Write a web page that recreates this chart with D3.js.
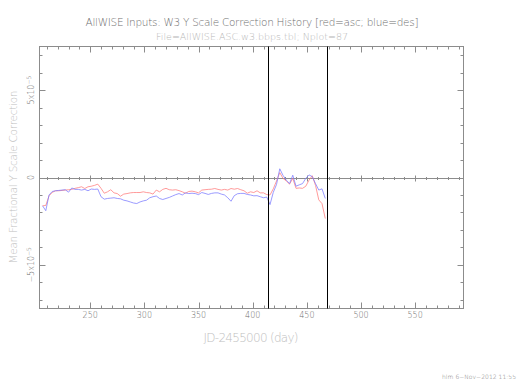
<!DOCTYPE html>
<html>
<head>
<meta charset="utf-8">
<script src="https://cdn.jsdelivr.net/npm/d3@7"></script>
<style>
  body { margin: 0; background: #fff; }
  svg { font-family: "DejaVu Sans", "Liberation Sans", sans-serif; font-weight: 200; }
</style>
</head>
<body>
<div id="chart"></div>
<script>
'use strict';

// days (JD-2455000)
var days = [206, 209, 212, 215, 218, 221, 224, 227, 230, 233, 236, 239, 242, 245, 248,
  251, 254, 257, 260, 263, 266, 269, 272, 275, 278, 281, 284, 287, 290, 293, 296, 299,
  302, 305, 308, 311, 314, 317, 320, 323, 326, 329, 332, 335, 338, 341, 344, 347, 350,
  353, 356, 359, 362, 365, 368, 371, 374, 377, 380, 383, 386, 389, 392, 395, 398, 401,
  404, 407, 410, 413, 416, 419, 422, 425, 428, 431, 434, 437, 440, 443, 446, 449, 452,
  455, 458, 461, 464, 467];

// mean fractional correction, units of 1e-5
var ascValues = [-1.62, -1.6, -1.05, -0.85, -0.76, -0.76, -0.74, -0.72, -0.7, -0.68, -0.62,
  -0.58, -0.53, -0.63, -0.53, -0.5, -0.45, -0.38, -0.62, -0.9, -0.82, -0.7, -0.88, -0.92,
  -1.07, -0.95, -0.92, -0.88, -0.86, -0.86, -0.86, -0.82, -0.86, -0.88, -0.95, -0.72, -0.82,
  -0.68, -0.62, -0.7, -0.72, -0.7, -0.75, -0.82, -0.9, -0.8, -0.78, -0.82, -0.88, -0.72,
  -0.7, -0.68, -0.67, -0.63, -0.68, -0.72, -0.68, -0.72, -0.63, -0.67, -0.63, -0.7, -0.76,
  -0.9, -0.82, -0.86, -0.76, -0.88, -0.88, -0.98, -1.0, -0.65, -0.2, 0.28, -0.05, -0.2,
  -0.38, -0.05, -0.62, -0.6, -0.62, -0.5, -0.15, 0.1, -0.45, -1.28, -1.5, -2.35];

var desValues = [-1.62, -1.9, -1.0, -0.8, -0.76, -0.74, -0.72, -0.7, -0.84, -0.6, -0.68,
  -0.68, -0.72, -0.68, -0.76, -0.66, -0.68, -0.66, -1.1, -1.24, -1.2, -1.18, -1.16, -1.2,
  -1.22, -1.3, -1.34, -1.4, -1.46, -1.49, -1.4, -1.34, -1.3, -1.16, -1.1, -1.06, -1.2,
  -1.26, -1.2, -1.14, -1.06, -0.98, -0.92, -1.0, -0.88, -0.92, -0.9, -0.92, -0.98, -0.86,
  -0.91, -0.97, -0.91, -0.88, -0.88, -0.95, -1.0, -1.16, -1.36, -1.04, -0.93, -0.91, -0.91,
  -0.97, -1.0, -1.05, -1.04, -1.1, -1.16, -1.12, -1.55, -0.85, -0.4, 0.5, 0.12, -0.15,
  -0.35, 0.13, -0.5, -0.42, -0.35, -0.05, 0.15, 0.05, -0.35, -0.72, -0.65, -1.2];

var markerDays = [414.5, 469];
var xMajor = [250, 300, 350, 400, 450, 500, 550];

(function() {

  var width = 521, height = 384;
  var pLeft = 39.5, pRight = 463.5, pTop = 46.5, pBottom = 308.5;

  var svg = d3.select('#chart').append('svg')
    .attr('width', width)
    .attr('height', height);

  var x = d3.scaleLinear().domain([203.2, 594.6]).range([pLeft, pRight]);
  var y = d3.scaleLinear().domain([-7.5, 7.5]).range([pBottom, pTop]);

  var frameColor = '#8c8c8c';
  var minorX = d3.range(210, 595, 10);
  var minorY = d3.range(-7, 8, 1);

  // frame
  svg.append('rect')
    .attr('x', pLeft).attr('y', pTop)
    .attr('width', pRight - pLeft).attr('height', pBottom - pTop)
    .attr('fill', 'none').attr('stroke', frameColor).attr('stroke-width', 1);

  function tickLen(major) { return major ? 6 : 3; }

  var zeroY = Math.round(y(0)) + 0.5;

  // bottom + top ticks, and ticks across the zero line
  var g = svg.append('g').attr('stroke', frameColor).attr('stroke-width', 1);
  minorX.forEach(function(d) {
    var major = d % 50 === 0;
    var px = Math.round(x(d)) + 0.5;
    g.append('line').attr('x1', px).attr('x2', px).attr('y1', pBottom).attr('y2', pBottom - tickLen(major));
    g.append('line').attr('x1', px).attr('x2', px).attr('y1', pTop).attr('y2', pTop + tickLen(major));
    g.append('line').attr('x1', px).attr('x2', px)
      .attr('y1', zeroY - tickLen(major) / 2)
      .attr('y2', zeroY + tickLen(major) / 2);
  });

  // left + right ticks
  minorY.forEach(function(d) {
    var major = d % 5 === 0;
    var py = Math.round(y(d)) + 0.5;
    g.append('line').attr('x1', pLeft).attr('x2', pLeft + tickLen(major)).attr('y1', py).attr('y2', py);
    g.append('line').attr('x1', pRight).attr('x2', pRight - tickLen(major)).attr('y1', py).attr('y2', py);
  });

  // zero line
  g.append('line')
    .attr('x1', pLeft).attr('x2', pRight)
    .attr('y1', zeroY).attr('y2', zeroY);

  // x tick labels
  svg.append('g').selectAll('text')
    .data(xMajor)
    .enter().append('text')
    .attr('x', function(d) { return x(d); })
    .attr('y', 318)
    .attr('text-anchor', 'middle')
    .attr('font-size', 8)
    .attr('fill', '#6e6e6e')
    .text(function(d) { return d; });

  // y tick labels (rotated)
  var yLabels = [{v: 5, t: '5x10', e: '\u22125'}, {v: 0, t: '0', e: ''}, {v: -5, t: '\u22125x10', e: '\u22125'}];
  yLabels.forEach(function(d) {
    var t = svg.append('text')
      .attr('transform', 'translate(34,' + y(d.v) + ') rotate(-90)')
      .attr('text-anchor', 'middle')
      .attr('font-size', 8)
      .attr('fill', '#6e6e6e');
    t.append('tspan').text(d.t);
    if (d.e) {
      t.append('tspan').attr('dy', -3).attr('font-size', 6).text(d.e);
    }
  });

  // series
  var line = d3.line()
    .x(function(d) { return x(d[0]); })
    .y(function(d) { return y(d[1]); });

  svg.append('path')
    .datum(d3.zip(days, ascValues))
    .attr('d', line)
    .attr('fill', 'none')
    .attr('stroke', '#ff7a7a')
    .attr('stroke-opacity', 0.75)
    .attr('stroke-width', 1);

  svg.append('path')
    .datum(d3.zip(days, desValues))
    .attr('d', line)
    .attr('fill', 'none')
    .attr('stroke', '#7a7aff')
    .attr('stroke-opacity', 0.75)
    .attr('stroke-width', 1);

  // vertical markers
  svg.append('g').selectAll('line')
    .data(markerDays)
    .enter().append('line')
    .attr('x1', function(d) { return Math.round(x(d)) + 0.5; })
    .attr('x2', function(d) { return Math.round(x(d)) + 0.5; })
    .attr('y1', pTop).attr('y2', pBottom)
    .attr('stroke', '#000').attr('stroke-width', 1);

  // titles
  svg.append('text')
    .attr('x', 252).attr('y', 26)
    .attr('text-anchor', 'middle')
    .attr('font-size', 10.5)
    .attr('fill', '#707070')
    .attr('textLength', 333).attr('lengthAdjust', 'spacing')
    .text('AllWISE Inputs: W3 Y Scale Correction History [red=asc; blue=des]');

  svg.append('text')
    .attr('x', 252).attr('y', 40)
    .attr('text-anchor', 'middle')
    .attr('font-size', 9.5)
    .attr('fill', '#b8b8b8')
    .attr('textLength', 192).attr('lengthAdjust', 'spacing')
    .text('File=AllWISE.ASC.w3.bbps.tbl; Nplot=87');

  svg.append('text')
    .attr('x', 251).attr('y', 342)
    .attr('text-anchor', 'middle')
    .attr('font-size', 12)
    .attr('fill', '#c0c0c0')
    .attr('textLength', 95).attr('lengthAdjust', 'spacing')
    .text('JD-2455000 (day)');

  svg.append('text')
    .attr('transform', 'translate(17,177) rotate(-90)')
    .attr('text-anchor', 'middle')
    .attr('font-size', 10.5)
    .attr('fill', '#c0c0c0')
    .attr('textLength', 173).attr('lengthAdjust', 'spacing')
    .text('Mean Fractional Y Scale Correction');

  svg.append('text')
    .attr('x', 516).attr('y', 379)
    .attr('text-anchor', 'end')
    .attr('font-size', 6)
    .attr('fill', '#777')
    .attr('textLength', 74).attr('lengthAdjust', 'spacing')
    .text('hlm  6\u2212Nov\u22122012 11:55');

})();
</script>
</body>
</html>
